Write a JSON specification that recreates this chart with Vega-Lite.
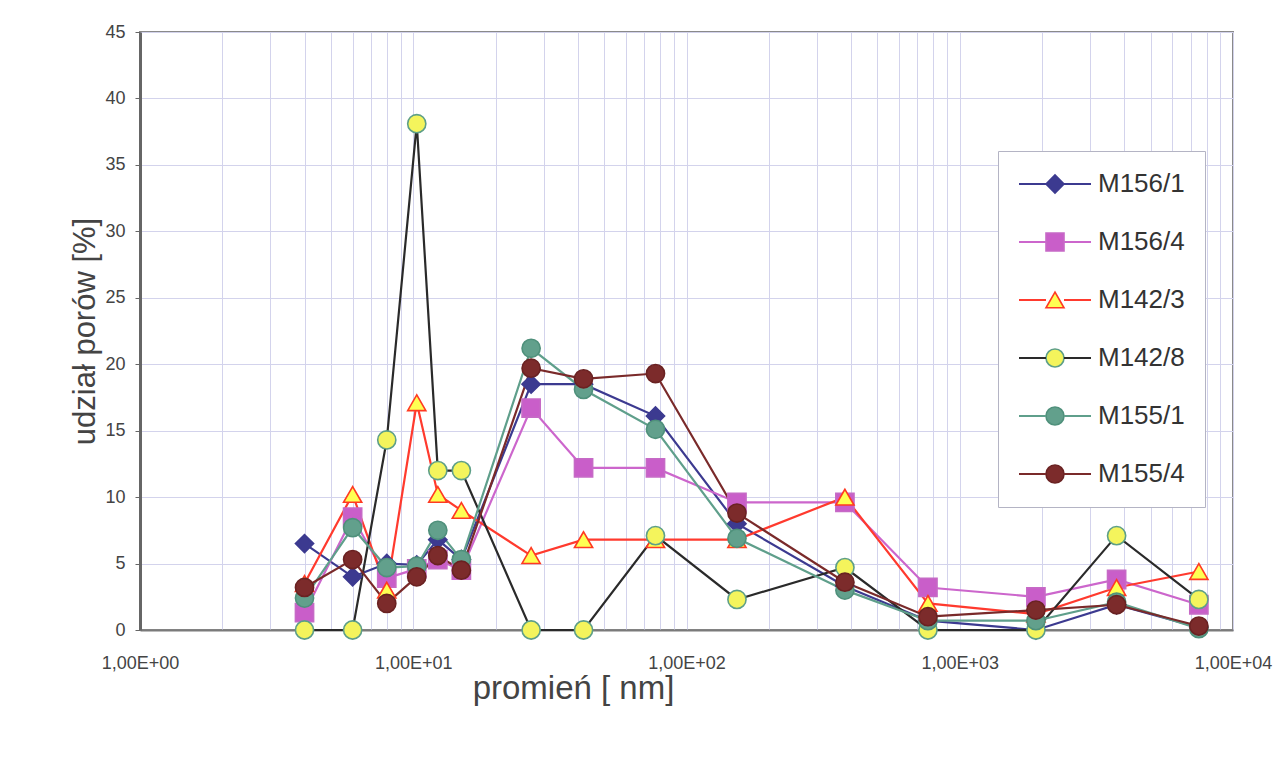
{
  "$schema": "https://vega.github.io/schema/vega-lite/v6.json",
  "width": 1093,
  "height": 598,
  "autosize": {"type": "none"},
  "padding": {"left": 140, "top": 32, "right": 55, "bottom": 134},
  "background": "white",
  "config": {
    "font": "Liberation Sans",
    "view": {"stroke": "#8a8a8a", "strokeWidth": 2}
  },
  "data": {
    "values": [
      {"seria": "M156/1", "r": 4, "u": 6.5},
      {"seria": "M156/1", "r": 6, "u": 4.0},
      {"seria": "M156/1", "r": 8, "u": 5.0},
      {"seria": "M156/1", "r": 10.3, "u": 4.9},
      {"seria": "M156/1", "r": 12.3, "u": 6.8},
      {"seria": "M156/1", "r": 15, "u": 5.3},
      {"seria": "M156/1", "r": 27, "u": 18.5},
      {"seria": "M156/1", "r": 42, "u": 18.5},
      {"seria": "M156/1", "r": 77, "u": 16.1},
      {"seria": "M156/1", "r": 153, "u": 8.0},
      {"seria": "M156/1", "r": 380, "u": 3.3},
      {"seria": "M156/1", "r": 765, "u": 0.7},
      {"seria": "M156/1", "r": 1900, "u": 0.0},
      {"seria": "M156/1", "r": 3750, "u": 1.9},
      {"seria": "M156/1", "r": 7500, "u": 0.2},

      {"seria": "M156/4", "r": 4, "u": 1.3},
      {"seria": "M156/4", "r": 6, "u": 8.5},
      {"seria": "M156/4", "r": 8, "u": 3.9},
      {"seria": "M156/4", "r": 10.3, "u": 4.6},
      {"seria": "M156/4", "r": 12.3, "u": 5.3},
      {"seria": "M156/4", "r": 15, "u": 4.5},
      {"seria": "M156/4", "r": 27, "u": 16.7},
      {"seria": "M156/4", "r": 42, "u": 12.2},
      {"seria": "M156/4", "r": 77, "u": 12.2},
      {"seria": "M156/4", "r": 153, "u": 9.6},
      {"seria": "M156/4", "r": 380, "u": 9.6},
      {"seria": "M156/4", "r": 765, "u": 3.2},
      {"seria": "M156/4", "r": 1900, "u": 2.5},
      {"seria": "M156/4", "r": 3750, "u": 3.8},
      {"seria": "M156/4", "r": 7500, "u": 1.9},

      {"seria": "M142/3", "r": 4, "u": 3.5},
      {"seria": "M142/3", "r": 6, "u": 10.2},
      {"seria": "M142/3", "r": 8, "u": 3.0},
      {"seria": "M142/3", "r": 10.3, "u": 17.1},
      {"seria": "M142/3", "r": 12.3, "u": 10.2},
      {"seria": "M142/3", "r": 15, "u": 9.0},
      {"seria": "M142/3", "r": 27, "u": 5.6},
      {"seria": "M142/3", "r": 42, "u": 6.8},
      {"seria": "M142/3", "r": 77, "u": 6.8},
      {"seria": "M142/3", "r": 153, "u": 6.8},
      {"seria": "M142/3", "r": 380, "u": 10.0},
      {"seria": "M142/3", "r": 765, "u": 2.0},
      {"seria": "M142/3", "r": 1900, "u": 1.2},
      {"seria": "M142/3", "r": 3750, "u": 3.2},
      {"seria": "M142/3", "r": 7500, "u": 4.4},

      {"seria": "M142/8", "r": 4, "u": 0},
      {"seria": "M142/8", "r": 6, "u": 0},
      {"seria": "M142/8", "r": 8, "u": 14.3},
      {"seria": "M142/8", "r": 10.3, "u": 38.1},
      {"seria": "M142/8", "r": 12.3, "u": 12.0},
      {"seria": "M142/8", "r": 15, "u": 12.0},
      {"seria": "M142/8", "r": 27, "u": 0},
      {"seria": "M142/8", "r": 42, "u": 0},
      {"seria": "M142/8", "r": 77, "u": 7.1},
      {"seria": "M142/8", "r": 153, "u": 2.3},
      {"seria": "M142/8", "r": 380, "u": 4.7},
      {"seria": "M142/8", "r": 765, "u": 0},
      {"seria": "M142/8", "r": 1900, "u": 0},
      {"seria": "M142/8", "r": 3750, "u": 7.1},
      {"seria": "M142/8", "r": 7500, "u": 2.3},

      {"seria": "M155/1", "r": 4, "u": 2.4},
      {"seria": "M155/1", "r": 6, "u": 7.7},
      {"seria": "M155/1", "r": 8, "u": 4.7},
      {"seria": "M155/1", "r": 10.3, "u": 4.8},
      {"seria": "M155/1", "r": 12.3, "u": 7.5},
      {"seria": "M155/1", "r": 15, "u": 5.3},
      {"seria": "M155/1", "r": 27, "u": 21.2},
      {"seria": "M155/1", "r": 42, "u": 18.1},
      {"seria": "M155/1", "r": 77, "u": 15.1},
      {"seria": "M155/1", "r": 153, "u": 6.9},
      {"seria": "M155/1", "r": 380, "u": 3.0},
      {"seria": "M155/1", "r": 765, "u": 0.7},
      {"seria": "M155/1", "r": 1900, "u": 0.7},
      {"seria": "M155/1", "r": 3750, "u": 2.1},
      {"seria": "M155/1", "r": 7500, "u": 0.1},

      {"seria": "M155/4", "r": 4, "u": 3.2},
      {"seria": "M155/4", "r": 6, "u": 5.3},
      {"seria": "M155/4", "r": 8, "u": 2.0},
      {"seria": "M155/4", "r": 10.3, "u": 4.0},
      {"seria": "M155/4", "r": 12.3, "u": 5.6},
      {"seria": "M155/4", "r": 15, "u": 4.5},
      {"seria": "M155/4", "r": 27, "u": 19.7},
      {"seria": "M155/4", "r": 42, "u": 18.9},
      {"seria": "M155/4", "r": 77, "u": 19.3},
      {"seria": "M155/4", "r": 153, "u": 8.8},
      {"seria": "M155/4", "r": 380, "u": 3.6},
      {"seria": "M155/4", "r": 765, "u": 1.0},
      {"seria": "M155/4", "r": 1900, "u": 1.5},
      {"seria": "M155/4", "r": 3750, "u": 1.9},
      {"seria": "M155/4", "r": 7500, "u": 0.3}
    ]
  },
  "encoding": {
    "x": {
      "field": "r",
      "type": "quantitative",
      "scale": {"type": "log", "domain": [1, 10000], "nice": false},
      "title": "promień [ nm]",
      "axis": {
        "values": [1, 2, 3, 4, 5, 6, 7, 8, 9, 10, 20, 30, 40, 50, 60, 70, 80, 90, 100, 200, 300, 400, 500, 600, 700, 800, 900, 1000, 2000, 3000, 4000, 5000, 6000, 7000, 8000, 9000, 10000],
        "labelExpr": "abs(log(datum.value) / LN10 - round(log(datum.value) / LN10)) < 0.001 ? '1,00E+0' + round(log(datum.value) / LN10) : ''",
        "labelOverlap": false,
        "labelFlush": false,
        "ticks": false,
        "grid": true,
        "gridColor": "#d3d3ec",
        "gridWidth": 1,
        "domainColor": "#7a7a7a",
        "domainWidth": 2,
        "labelFontSize": 18,
        "labelColor": "#444444",
        "labelPadding": 24,
        "titleFontSize": 33,
        "titleFontWeight": "normal",
        "titleColor": "#444444",
        "titlePadding": 0,
        "titleX": 433,
        "titleAlign": "center"
      }
    },
    "y": {
      "field": "u",
      "type": "quantitative",
      "scale": {"domain": [0, 45], "nice": false},
      "title": "udział porów [%]",
      "axis": {
        "values": [0, 5, 10, 15, 20, 25, 30, 35, 40, 45],
        "grid": true,
        "gridColor": "#d3d3ec",
        "gridWidth": 1,
        "domainColor": "#666666",
        "domainWidth": 3,
        "tickColor": "#666666",
        "tickSize": 5,
        "labelFontSize": 18,
        "labelColor": "#444444",
        "labelPadding": 10,
        "titleFontSize": 31,
        "titleFontWeight": "normal",
        "titleColor": "#444444",
        "titlePadding": 3
      }
    }
  },
  "layer": [
    {
      "mark": {"type": "line", "strokeWidth": 2.2},
      "encoding": {
        "color": {
          "field": "seria",
          "type": "nominal",
          "scale": {
            "domain": ["M156/1", "M156/4", "M142/3", "M142/8", "M155/1", "M155/4"],
            "range": ["#3c3a90", "#cc66cc", "#ff3a2e", "#2a2a2a", "#5f9f8b", "#7a2a2a"]
          },
          "legend": {
            "orient": "none",
            "legendX": 858,
            "legendY": 119,
            "title": null,
            "padding": 20,
            "symbolType": "M-4,0H-1M1,0H4",
            "symbolSize": 324,
            "symbolStrokeWidth": 2,
            "symbolOffset": 24,
            "labelOffset": 30,
            "labelFontSize": 26,
            "labelOpacity": 0,
            "labelLimit": 300,
            "rowPadding": 32
          }
        }
      }
    },
    {
      "mark": {"type": "point", "filled": true, "opacity": 1, "strokeWidth": 1.6, "size": 330},
      "encoding": {
        "shape": {
          "field": "seria",
          "type": "nominal",
          "scale": {
            "domain": ["M156/1", "M156/4", "M142/3", "M142/8", "M155/1", "M155/4"],
            "range": ["diamond", "square", "triangle-up", "circle", "circle", "circle"]
          },
          "legend": {
            "orient": "none",
            "legendX": 858,
            "legendY": 119,
            "title": null,
            "padding": 20,
            "fillColor": "white",
            "strokeColor": "#b4b4c4",
            "symbolSize": 324,
            "symbolStrokeWidth": 1.6,
            "symbolOffset": 24,
            "labelOffset": 30,
            "labelFontSize": 26,
            "labelColor": "#333333",
            "labelLimit": 300,
            "rowPadding": 32
          }
        },
        "fill": {
          "field": "seria",
          "type": "nominal",
          "scale": {
            "domain": ["M156/1", "M156/4", "M142/3", "M142/8", "M155/1", "M155/4"],
            "range": ["#3c3a90", "#c95ec9", "#ffff52", "#f4f45c", "#62a08c", "#7c2b2b"]
          }
        },
        "stroke": {
          "field": "seria",
          "type": "nominal",
          "scale": {
            "domain": ["M156/1", "M156/4", "M142/3", "M142/8", "M155/1", "M155/4"],
            "range": ["#3c3a90", "#c66ac6", "#ff3a22", "#5e9f88", "#4f907b", "#6a2222"]
          }
        }
      }
    }
  ],
  "resolve": {
    "scale": {"color": "independent"},
    "legend": {"color": "independent"}
  }
}
